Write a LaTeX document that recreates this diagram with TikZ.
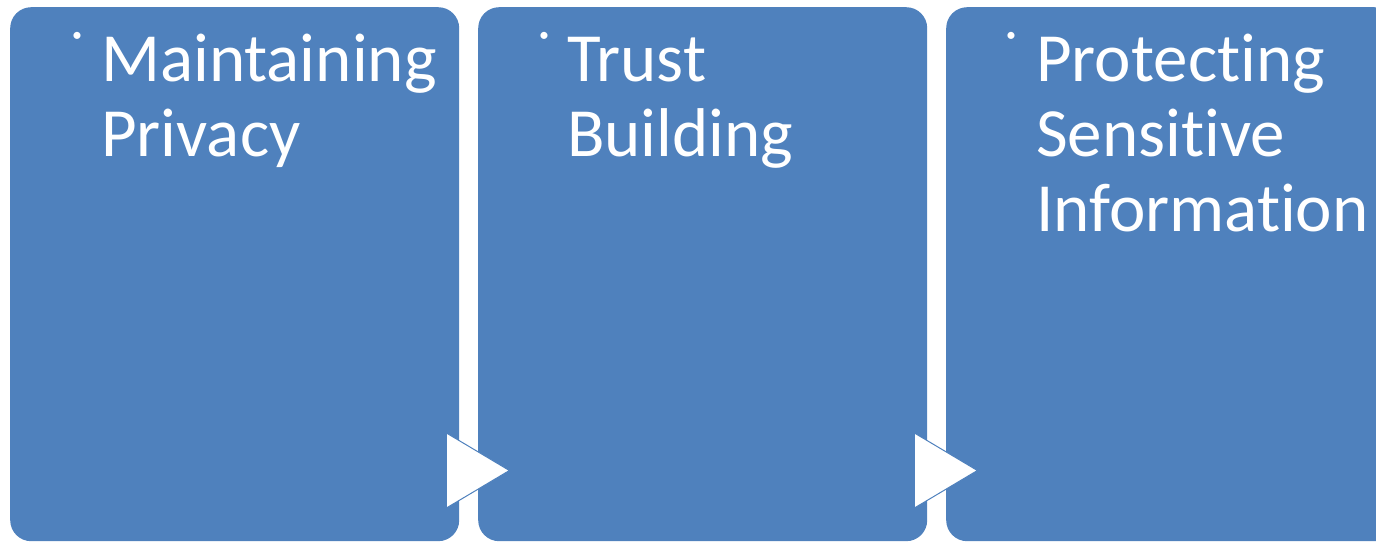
\documentclass[tikz,border=0pt]{standalone}
\usepackage{fontspec}
\setmainfont{Carlito}[Ligatures=NoCommon]
\usetikzlibrary{calc}
\definecolor{panelblue}{HTML}{4F81BD}
% lines stacked from the top, baseline on the first line
\newcommand{\toplines}[1]{\vtop{\baselineskip=75pt\lineskiplimit=-100pt #1}}
\begin{document}
\begin{tikzpicture}[x=1pt,y=1pt,
  panel/.style={draw=none, fill=panelblue, rounded corners=21pt,
    minimum width=449pt, minimum height=534pt, inner sep=0pt, anchor=north west},
  label/.style={text=white, inner sep=0pt, anchor=base west,
    font=\fontsize{69}{75}\selectfont},
  dot/.style={text=white, inner sep=0pt, anchor=center, font=\fontsize{20}{20}\selectfont},
  chevron/.style={fill=white, draw=panelblue, line width=1pt, line join=miter}]
\useasboundingbox (0,0) rectangle (1376,542);
\clip (0,0) rectangle (1376,542);
% three panels, the last running off the right edge
\node[panel] (p1) at (10,535) {};
\node[panel] (p2) at (478,535) {};
\node[panel] (p3) at (946,535) {};
% bullets and headings
\node[dot] (d1) at ($(p1.north west)+(67,-30)$) {•};
\node[dot] (d2) at ($(p2.north west)+(66,-30)$) {•};
\node[dot] (d3) at ($(p3.north west)+(65,-30)$) {•};
\node[label] (t1) at ($(p1.north west)+(91,-75)$) {\toplines{\hbox{Maintaining}\hbox{Privacy}}};
\node[label] (t2) at ($(p2.north west)+(89,-75)$) {\toplines{\hbox{Trust}\hbox{Building}}};
\node[label] (t3) at ($(p3.north west)+(90,-75)$) {\toplines{\hbox{Protecting}\hbox{Sensitive}\hbox{Information}}};
% chevrons between panels
\coordinate (a1) at ($(p1.north east)+(-13,-426)$);
\coordinate (a2) at ($(p2.north east)+(-13,-426)$);
\draw[chevron] (a1) -- ++(0,-75) -- ++(63,37.5) -- cycle;
\draw[chevron] (a2) -- ++(0,-75) -- ++(63,37.5) -- cycle;
\end{tikzpicture}
\end{document}
